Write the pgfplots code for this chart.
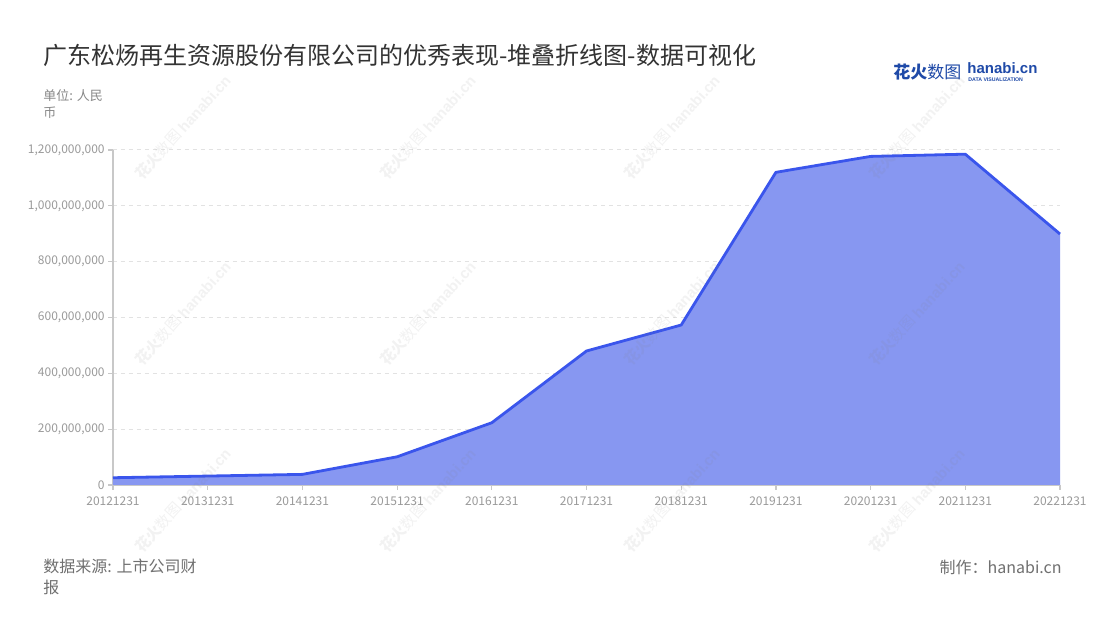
\documentclass[border=0pt]{standalone}
\usepackage{fontspec}
\setmainfont{Noto Sans CJK SC}
\newfontfamily\logofont{Liberation Sans}
\usepackage{pgfplots}
\pgfplotsset{compat=1.18}

\definecolor{linec}{HTML}{3A55EC}
\definecolor{fillc}{HTML}{8797F1}
\definecolor{titlec}{HTML}{333333}
\definecolor{subc}{HTML}{888888}
\definecolor{footc}{HTML}{707070}
\definecolor{tickc}{HTML}{9A9A9A}
\definecolor{axisc}{HTML}{C8C8C8}
\definecolor{gridc}{HTML}{E2E2E2}
\definecolor{logoc}{HTML}{1F4AA8}

\begin{document}
\begin{tikzpicture}[x=0.5pt,y=0.5pt]
\path[use as bounding box, fill=white] (0,0) rectangle (1100,620);

% title and notes
\node[anchor=west, inner sep=0pt, text=titlec, font=\fontsize{12}{14}\selectfont] at (43,565)
  {广东松炀再生资源股份有限公司的优秀表现-堆叠折线图-数据可视化};
\node[anchor=north west, inner sep=0pt, align=left, text=subc, font=\fontsize{6.5}{8.5}\selectfont] at (43,531)
  {单位: 人民\\币};
\node[anchor=north west, inner sep=0pt, align=left, text=footc, font=\fontsize{8}{10.5}\selectfont] at (43,61)
  {数据来源: 上市公司财\\报};
\node[anchor=east, inner sep=0pt, text=footc, font=\fontsize{8}{10}\selectfont] at (1062,53)
  {制作：hanabi.cn};

% logo
\node[anchor=west, inner sep=0pt, text=logoc, font=\fontsize{8.5}{10}\selectfont] at (893,548)
  {\textbf{花火}数图};
\node[anchor=west, inner sep=0pt, text=logoc, font=\logofont\bfseries\fontsize{7.5}{8}\selectfont] at (967,552)
  {hanabi.cn};
\node[anchor=west, inner sep=0pt, text=logoc, font=\logofont\bfseries\fontsize{2.6}{3}\selectfont] at (968,540)
  {DATA VISUALIZATION};

\begin{axis}[
  at={(56.5pt,67.5pt)}, anchor=south west,
  scale only axis, width=473.5pt, height=167.5pt,
  xmin=0, xmax=10, ymin=0, ymax=1.2e9,
  clip=false,
  axis x line*=bottom, axis y line*=left,
  axis line style={-, draw=axisc, line width=0.7pt},
  tick align=outside, major tick length=2.5pt,
  tick style={draw=axisc, line width=0.6pt},
  xtick={0,1,...,10},
  xticklabels={20121231,20131231,20141231,20151231,20161231,20171231,20181231,20191231,20201231,20211231,20221231},
  ytick={0,200000000,400000000,600000000,800000000,1000000000,1200000000},
  scaled y ticks=false,
  /pgf/number format/fixed,
  /pgf/number format/precision=0,
  /pgf/number format/1000 sep={,},
  /pgf/number format/assume math mode=true,
  ticklabel style={text=tickc, font=\fontsize{6}{7}\selectfont},
  yticklabel style={inner sep=1.5pt},
  ymajorgrids,
  major grid style={draw=gridc, dash pattern=on 2pt off 2pt, line width=0.5pt},
]
\addplot[fill=fillc, draw=none] coordinates {
  (0,26000000) (1,32000000) (2,38000000) (3,101000000) (4,223000000) (5,480000000)
  (6,573000000) (7,1120000000) (8,1177000000) (9,1185000000) (10,899000000)
} \closedcycle;
\addplot[draw=linec, line width=1.4pt, line join=round] coordinates {
  (0,26000000) (1,32000000) (2,38000000) (3,101000000) (4,223000000) (5,480000000)
  (6,573000000) (7,1120000000) (8,1177000000) (9,1185000000) (10,899000000)
};
\end{axis}

% watermarks
\foreach \cx in {183,428,672,917} {
  \foreach \cy in {493,307,120} {
    \node[rotate=48, text=gray, opacity=0.1, inner sep=0pt, font=\fontsize{7.5}{9}\selectfont] at (\cx,\cy)
      {\textbf{花火}数图 {\logofont\bfseries hanabi.cn}};
  }
}
\end{tikzpicture}
\end{document}
